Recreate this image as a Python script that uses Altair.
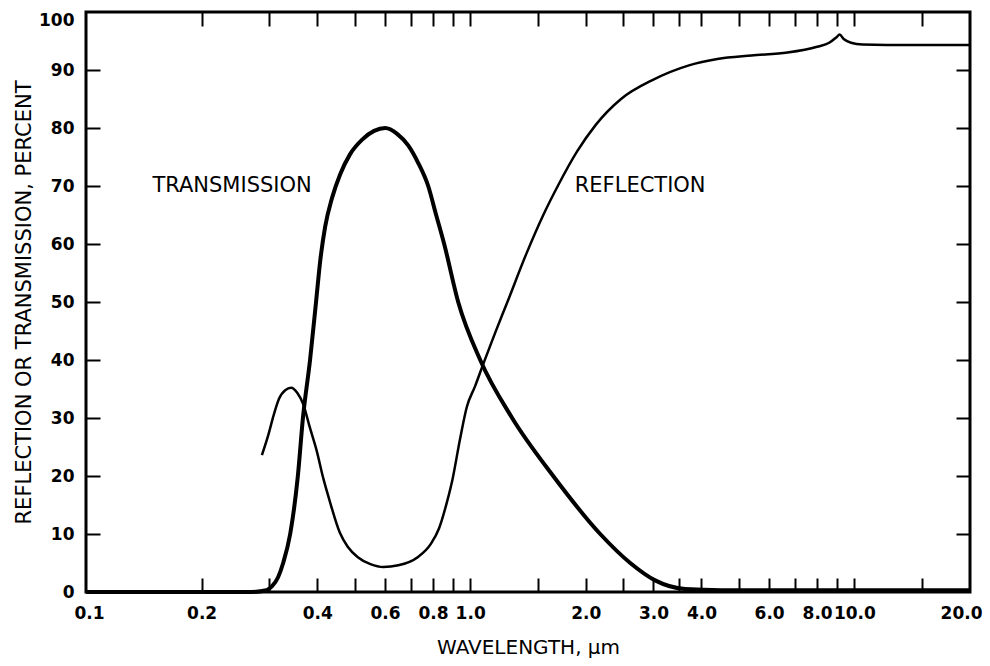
import altair as alt
import pandas as pd

# Transmission curve (thick)
trans_wl = [0.1, 0.2, 0.27, 0.295, 0.305, 0.316, 0.326, 0.340, 0.356, 0.367, 0.383, 0.397, 0.4069,
            0.4193, 0.4372, 0.4586, 0.487, 0.5234, 0.5623, 0.601, 0.6455, 0.6897, 0.732, 0.7775,
            0.8156, 0.8557, 0.9307, 1.062, 1.286, 1.645, 2.18, 2.61, 3.03, 3.63, 4.5, 10.0, 20.0]
trans_pct = [0, 0, 0, 0.3, 1.0, 2.5, 5.0, 10.0, 20.0, 30.0, 40.0, 50.0, 57.0,
             63.0, 68.0, 72.0, 75.5, 78.0, 79.5, 80.0, 79.0, 77.0, 74.0, 70.0,
             65.0, 60.0, 50.0, 40.0, 30.0, 20.0, 10.0, 5.0, 2.0, 0.5, 0.3, 0.3, 0.3]

# Reflection curve (thin)
refl_wl = [0.287, 0.298, 0.308, 0.318, 0.33, 0.342, 0.355, 0.368, 0.382, 0.398, 0.415, 0.43,
           0.458, 0.48, 0.51, 0.55, 0.594, 0.65, 0.73, 0.79, 0.83, 0.87, 0.90, 0.94, 0.98,
           1.03, 1.08, 1.16, 1.25, 1.40, 1.55, 1.70, 1.90, 2.12, 2.47, 2.99, 3.71, 4.4, 5.4,
           6.7, 8.0, 8.6, 9.0, 9.15, 9.4, 9.8, 10.5, 14.0, 20.0]
refl_pct = [23.6, 27.0, 30.5, 33.3, 34.8, 35.2, 34.3, 32.3, 28.5, 24.5, 19.5, 15.9,
            10.2, 7.8, 6.0, 4.8, 4.3, 4.6, 6.0, 8.3, 11.0, 15.5, 19.5, 26.2, 31.9,
            35.5, 39.2, 44.6, 50.0, 58.3, 65.0, 70.3, 76.0, 80.5, 85.0, 88.3, 90.8, 91.9, 92.5,
            93.0, 94.0, 94.7, 95.7, 96.1, 95.3, 94.7, 94.4, 94.3, 94.3]

# Annotations
ann_text = ["TRANSMISSION", "REFLECTION"]
ann_wl = [0.24, 2.77]
ann_pct = [70.0, 70.0]

# Axis values
x_label_values = [0.1, 0.2, 0.4, 0.6, 0.8, 1.0, 2.0, 3.0, 4.0, 6.0, 8.0, 10.0, 20.0]
x_tick_values = [0.2, 0.3, 0.4, 0.5, 0.6, 0.7, 0.8, 0.9, 1.0, 1.5, 2.0, 2.5, 3.0, 3.5,
                 4.0, 5.0, 6.0, 7.0, 8.0, 9.0, 10.0, 15.0]
y_label_values = [0, 10, 20, 30, 40, 50, 60, 70, 80, 90, 100]
y_tick_values = [10, 20, 30, 40, 50, 60, 70, 80, 90]

df_t = pd.DataFrame({"wl": trans_wl, "pct": trans_pct})
df_r = pd.DataFrame({"wl": refl_wl, "pct": refl_pct})
df_a = pd.DataFrame({"wl": ann_wl, "pct": ann_pct, "label": ann_text})

FONT = "DejaVu Sans"
xscale = alt.Scale(type="log", domain=[0.1, 20], nice=False)
yscale = alt.Scale(domain=[0, 100], nice=False, zero=False)

trans = alt.Chart(df_t).mark_line(color="black", strokeWidth=4, interpolate="monotone").encode(
    x=alt.X("wl:Q", scale=xscale, axis=alt.Axis(
        orient="bottom", values=x_label_values, labelExpr="format(datum.value, '.1f')",
        ticks=False, domain=False, grid=False, labelFlush=True, labelFlushOffset=12,
        labelOverlap=False,
        labelFont=FONT, labelFontSize=17, labelFontWeight="bold", labelColor="black",
        labelPadding=13, title="WAVELENGTH, µm", titleFont=FONT, titleFontSize=20,
        titleFontWeight="normal", titleColor="black", titlePadding=16)),
    y=alt.Y("pct:Q", scale=yscale, axis=alt.Axis(
        orient="left", values=y_label_values, ticks=False, domain=False, grid=False,
        labelFlush=False, labelOverlap=False,
        labelBaseline=alt.condition("datum.value == 100", alt.value("top"), alt.value("middle")),
        labelFont=FONT, labelFontSize=17, labelFontWeight="bold", labelColor="black",
        labelPadding=12, title="REFLECTION OR TRANSMISSION, PERCENT", titleFont=FONT,
        titleFontSize=21, titleFontWeight="normal", titleColor="black", titlePadding=4)),
    order="wl:Q",
)

refl = alt.Chart(df_r).mark_line(color="black", strokeWidth=2.5, interpolate="monotone").encode(
    x=alt.X("wl:Q", scale=xscale, axis=alt.Axis(
        orient="bottom", offset=-14, values=x_tick_values, labels=False, domain=False,
        grid=False, ticks=True, tickSize=14, tickWidth=2, tickColor="black", title=None)),
    y=alt.Y("pct:Q", scale=yscale, axis=alt.Axis(
        orient="left", offset=-14, values=y_tick_values, labels=False, domain=False,
        grid=False, ticks=True, tickSize=14, tickWidth=2, tickColor="black", title=None)),
    order="wl:Q",
)

ann = alt.Chart(df_a).mark_text(font=FONT, fontSize=21, color="black", align="center",
                                baseline="middle").encode(
    x=alt.X("wl:Q", scale=xscale, axis=alt.Axis(
        orient="top", offset=-14, values=x_tick_values, labels=False, domain=False,
        grid=False, ticks=True, tickSize=14, tickWidth=2, tickColor="black", title=None)),
    y=alt.Y("pct:Q", scale=yscale, axis=alt.Axis(
        orient="right", offset=-14, values=y_tick_values, labels=False, domain=False,
        grid=False, ticks=True, tickSize=14, tickWidth=2, tickColor="black", title=None)),
    text="label:N",
)

chart = alt.layer(trans, refl, ann).resolve_axis(x="independent", y="independent").properties(
    width=884, height=580,
    autosize=alt.AutoSizeParams(type="none"),
    padding={"left": 78, "top": 4, "right": 12, "bottom": 66},
    background="white",
).configure_view(stroke="black", strokeWidth=3)

chart.save("out.html", embed_options={"renderer": "svg", "actions": False})
